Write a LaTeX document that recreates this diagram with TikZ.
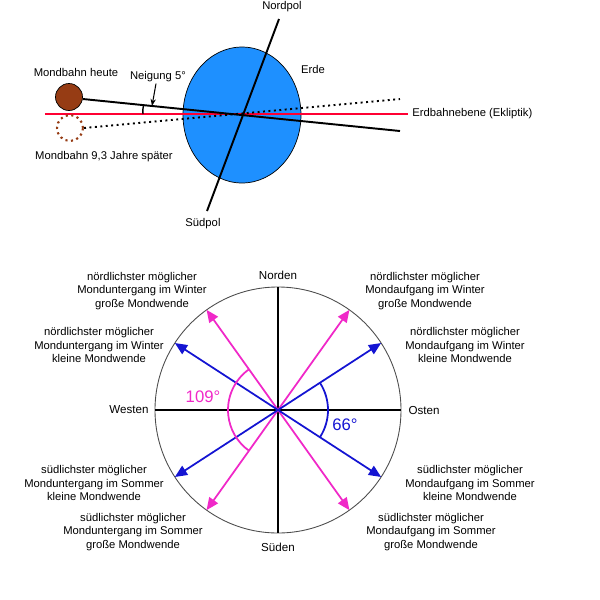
\documentclass[tikz,border=0pt]{standalone}
\usepackage{fontspec}
\setmainfont{Liberation Sans}
\usetikzlibrary{arrows.meta,calc,shapes.geometric}
\definecolor{earth}{RGB}{30,144,255}
\definecolor{moon}{RGB}{150,60,20}
\definecolor{mag}{RGB}{240,40,200}
\definecolor{bl}{RGB}{20,20,210}
\begin{document}
\begin{tikzpicture}[x=0.02cm,y=-0.02cm,
  lbl/.style={font=\fontsize{6.4}{7.7}\selectfont,align=center,inner sep=0pt},
  ax/.style={line width=1.1pt,black},
  ma/.style={mag,line width=1pt,-{Triangle[length=7pt,width=6pt]}},
  ba/.style={bl,line width=1pt,-{Triangle[length=7pt,width=6pt]}}]
\useasboundingbox (0,0) rectangle (600,600);
% top
\node[draw=black,fill=earth,ellipse,minimum width=2.36cm,minimum height=2.72cm,inner sep=0pt] (earth) at (242,115) {};
\coordinate (e1) at (45,114); \coordinate (e2) at (408,114);
\draw[red!80!magenta,line width=1.1pt] (e1) -- (e2);
\node[draw=black,fill=moon,circle,minimum size=0.54cm,inner sep=0pt] (moon1) at (69,97) {};
\node[draw=moon,dotted,line width=1.2pt,circle,minimum size=0.52cm,inner sep=0pt] (moon2) at (70,128) {};
\coordinate (b2) at (400,131); \coordinate (d2) at (400,99);
\draw[line width=1.1pt] ($(moon1.east)+(0,2)$) -- (b2);
\draw[line width=1.1pt,dotted] (moon2.east) -- (d2);
\coordinate (np) at (279,19); \coordinate (sp) at (207,211);
\draw[ax] (np) -- (sp);
\node[lbl,font=\fontsize{6.4}{8}\selectfont] (tnp) at (282,7) {Nordpol};
\node[lbl,font=\fontsize{6.4}{8}\selectfont] (tsp) at (203,224) {Südpol};
\node[lbl,font=\fontsize{6.4}{8}\selectfont] (terde) at (313,69) {Erde};
\node[lbl,font=\fontsize{6.4}{8}\selectfont,anchor=west] (tekl) at (412,114) {Erdbahnebene (Ekliptik)};
\node[lbl,font=\fontsize{6.4}{8}\selectfont] (tmh) at (76,72) {Mondbahn heute};
\node[lbl,font=\fontsize{6.4}{8}\selectfont] (tms) at (104,157) {Mondbahn 9,3 Jahre später};
\node[lbl,font=\fontsize{6.4}{8}\selectfont] (tn) at (158,77) {Neigung 5°};
\coordinate (na) at (152,106);
\draw[-{Stealth[length=4pt]},line width=0.6pt] ($(tn.south)+(-2,1)$) -- (na);
\draw[line width=0.8pt] (143.5,105.5) to[bend right=10] (143,114);
% bottom
\coordinate (O) at (278,410);
\draw[gray!60!black,line width=0.5pt] (O) circle[radius=123];
\coordinate (N) at (278,287); \coordinate (S) at (278,533);
\coordinate (W) at (155,410); \coordinate (E) at (401,410);
\draw[ax] (N) -- (S); \draw[ax] (W) -- (E);
\node[lbl,font=\fontsize{6.6}{8}\selectfont] (tN) at (278,275) {Norden};
\node[lbl,font=\fontsize{6.6}{8}\selectfont] (tS) at (278,547) {Süden};
\node[lbl,font=\fontsize{6.6}{8}\selectfont] (tW) at (129,410) {Westen};
\node[lbl,font=\fontsize{6.6}{8}\selectfont] (tE) at (424,410) {Osten};
\foreach \a/\n in {54.5/m1,125.5/m2,234.5/m3,305.5/m4}{
  \coordinate (\n) at ($(O)+({123*cos(\a)},{-123*sin(\a)})$);}
\foreach \a/\n in {33/b1,147/b2,213/b3,327/b4}{
  \coordinate (\n) at ($(O)+({123*cos(\a)},{-123*sin(\a)})$);}
\foreach \n in {m1,m2,m3,m4} \draw[ma] (O) -- (\n);
\foreach \n in {b1,b2,b3,b4} \draw[ba] (O) -- (\n);
\draw[bl,line width=1pt] ($(O)+({50*cos(33)},{-50*sin(33)})$) arc[start angle=33,end angle=-33,x radius=50,y radius=-50];
\draw[mag,line width=1pt] ($(O)+({50*cos(125.5)},{-50*sin(125.5)})$) arc[start angle=125.5,end angle=234.5,x radius=50,y radius=-50];
\node[lbl,bl,font=\fontsize{9.5}{10}\selectfont] (t66) at (345,425) {66°};
\node[lbl,mag,font=\fontsize{9.5}{10}\selectfont] (t109) at (203,397) {109°};
\node[lbl] (l1) at (425,291) {nördlichster möglicher\\Mondaufgang im Winter\\große Mondwende};
\node[lbl] (l2) at (465,345) {nördlichster möglicher\\Mondaufgang im Winter\\kleine Mondwende};
\node[lbl] (l3) at (470,483) {südlichster möglicher\\Mondaufgang im Sommer\\kleine Mondwende};
\node[lbl] (l4) at (431,532) {südlichster möglicher\\Mondaufgang im Sommer\\große Mondwende};
\node[lbl] (l5) at (142,291) {nördlichster möglicher\\Monduntergang im Winter\\große Mondwende};
\node[lbl] (l6) at (99,345) {nördlichster möglicher\\Monduntergang im Winter\\kleine Mondwende};
\node[lbl] (l7) at (94,483) {südlichster möglicher\\Monduntergang im Sommer\\kleine Mondwende};
\node[lbl] (l8) at (133,532) {südlichster möglicher\\Monduntergang im Sommer\\große Mondwende};
\end{tikzpicture}
\end{document}
